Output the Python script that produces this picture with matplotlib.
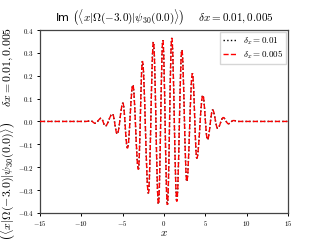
import matplotlib
matplotlib.use("Agg")
import matplotlib.pyplot as plt
from matplotlib.path import Path
from matplotlib.patches import PathPatch
from matplotlib.lines import Line2D
from matplotlib.ticker import FuncFormatter

plt.rcParams['mathtext.fontset'] = 'cm'

# extrema of Im(<x|Omega(-3.0)|psi_30(0.0)>)
x_pts = [-15.0, -9.4, -8.86, -8.34, -7.6, -7.1, -6.23, -5.66, -4.97, -4.42, -3.77,
         -3.10, -2.61, -1.89, -1.28, -0.67, -0.14, 0.41, 0.94, 1.55, 2.16, 2.76,
         3.44, 3.97, 4.70, 5.26, 5.89, 6.49, 7.17, 7.78, 8.4, 9.0, 15.0]
y_dx01 = [0.0, 0.0, 0.003, -0.008, 0.014, -0.02, 0.033, -0.055, 0.08, -0.117, 0.16,
          -0.21, 0.263, -0.314, 0.348, -0.362, 0.355, -0.365, 0.365, -0.35, 0.313, -0.263,
          0.21, -0.161, 0.115, -0.08, 0.05, -0.03, 0.017, -0.01, 0.004, 0.0, 0.0]
y_dx005 = list(y_dx01)

xticks = [-15, -10, -5, 0, 5, 10, 15]
yticks = [-0.4, -0.3, -0.2, -0.1, 0.0, 0.1, 0.2, 0.3, 0.4]
labels = [r"$\delta_x = 0.01$", r"$\delta_x = 0.005$"]
title = r"Im $\left(\langle x|\Omega(-3.0)|\psi_{30}(0.0)\rangle\right)$    $\delta x = 0.01, 0.005$"


def smooth_path(xs, ys):
    verts = [(xs[0], ys[0])]
    codes = [Path.MOVETO]
    a = 0.3634
    for i in range(1, len(xs)):
        d = xs[i] - xs[i - 1]
        verts += [(xs[i - 1] + a * d, ys[i - 1]), (xs[i] - a * d, ys[i]), (xs[i], ys[i])]
        codes += [Path.CURVE4] * 3
    return Path(verts, codes)


fig = plt.figure(figsize=(3.2, 2.4), dpi=100)
ax = fig.add_axes([0.125, 0.113, 0.775, 0.762])

ax.add_patch(PathPatch(smooth_path(x_pts, y_dx01), fill=False, edgecolor='black',
                       linestyle=':', linewidth=1.0, zorder=2))
ax.add_patch(PathPatch(smooth_path(x_pts, y_dx005), fill=False, edgecolor='red',
                       linestyle='--', linewidth=1.0, zorder=3))

ax.set_xlim(-15, 15)
ax.set_ylim(-0.4, 0.4)
ax.set_xticks(xticks)
ax.set_yticks(yticks)
ax.xaxis.set_major_formatter(FuncFormatter(lambda v, p: r"$%d$" % v))
ax.yaxis.set_major_formatter(FuncFormatter(lambda v, p: r"$%.1f$" % v))
ax.tick_params(labelsize=5, length=2.5, width=0.7, pad=2)
for s in ax.spines.values():
    s.set_linewidth(0.9)
    s.set_color('#444444')

handles = [Line2D([], [], color='black', linestyle=':', linewidth=1.0),
           Line2D([], [], color='red', linestyle='--', linewidth=1.0)]
ax.legend(handles, labels, loc='upper right', fontsize=6.5, handlelength=1.6,
          borderpad=0.3, labelspacing=0.2, handletextpad=0.6, fancybox=False,
          edgecolor='#cccccc', borderaxespad=0.25)

ax.set_title(title, fontsize=8, pad=6)
ax.set_xlabel(r"$x$", fontsize=8, labelpad=0)
ax.set_ylabel(title, fontsize=8.5, labelpad=0)
ax.yaxis.label.set_y(0.38)

fig.savefig("out.png", dpi=100)
